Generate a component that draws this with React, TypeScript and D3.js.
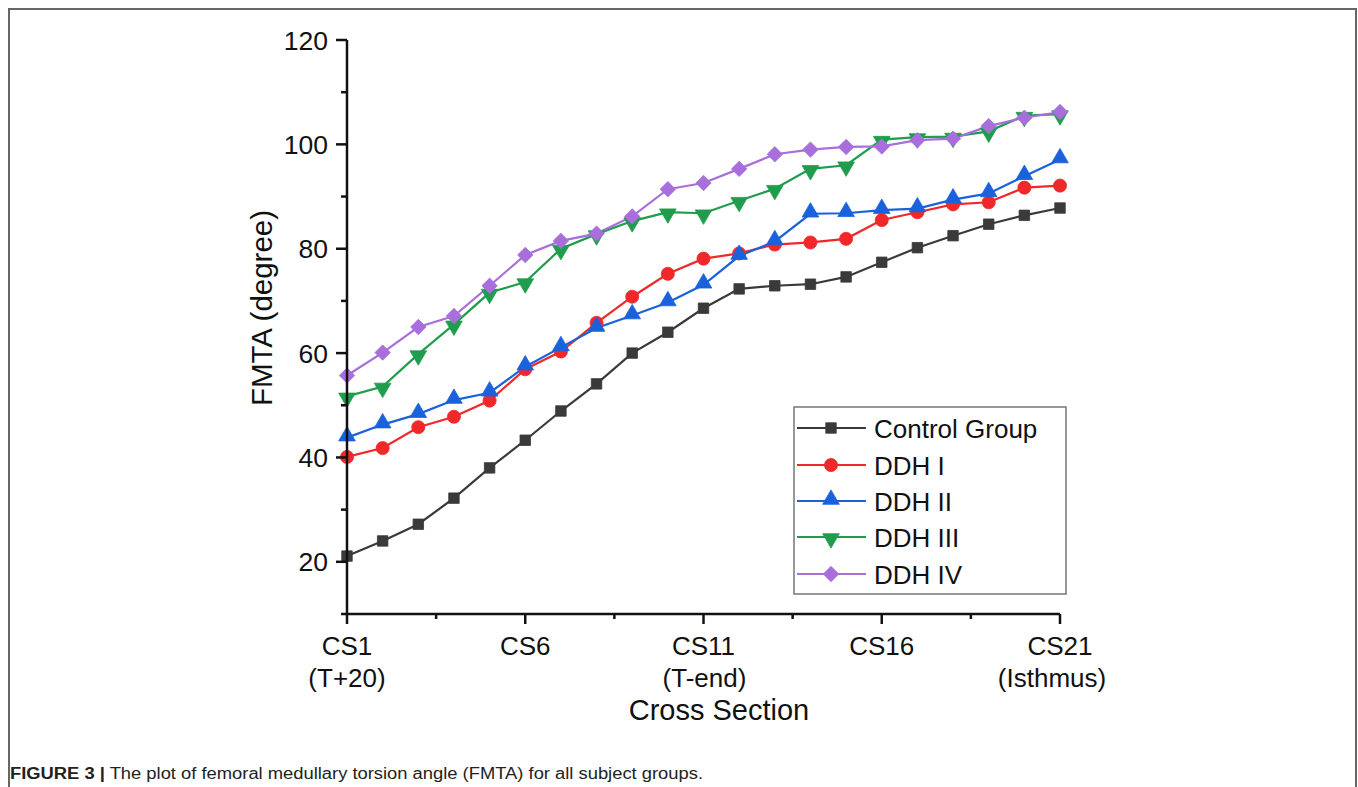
import React from "react";
import * as d3 from "d3";

const sections = d3.range(1, 22);
const controlGroup = [21.1, 24.0, 27.2, 32.2, 38.0, 43.3, 48.9, 54.1, 60.0, 64.0, 68.6, 72.3, 72.9, 73.2, 74.6, 77.4, 80.2, 82.5, 84.7, 86.4, 87.8];
const ddh1 = [40.1, 41.8, 45.8, 47.8, 50.9, 56.9, 60.3, 65.8, 70.8, 75.2, 78.1, 79.1, 80.8, 81.2, 81.9, 85.5, 87.0, 88.5, 88.9, 91.7, 92.1];
const ddh2 = [43.8, 46.3, 48.3, 51.0, 52.4, 57.4, 61.1, 64.8, 67.2, 69.7, 73.1, 78.6, 81.4, 86.7, 86.8, 87.4, 87.7, 89.4, 90.6, 93.9, 97.1];
const ddh3 = [51.7, 53.6, 59.8, 65.5, 71.6, 73.6, 80.0, 82.8, 85.3, 87.0, 86.8, 89.2, 91.5, 95.3, 96.0, 100.9, 101.4, 101.5, 102.5, 105.5, 105.8];
const ddh4 = [55.7, 60.1, 65.0, 67.1, 72.9, 78.8, 81.5, 82.9, 86.2, 91.4, 92.6, 95.3, 98.1, 99.0, 99.5, 99.6, 100.8, 101.1, 103.5, 105.1, 106.2];

const yMajorTicks = [20, 40, 60, 80, 100, 120];
const yMinorTicks = [10, 30, 50, 70, 90, 110];
const xMajorTicks = [1, 6, 11, 16, 21];
const xMinorTicks = [3.5, 8.5, 13.5, 18.5];
const xTickLabels = ["CS1", "CS6", "CS11", "CS16", "CS21"];
const xTickSubLabels = ["(T+20)", "", "(T-end)", "", "(Isthmus)"];

const seriesNames = ["Control Group", "DDH I", "DDH II", "DDH III", "DDH IV"];
const seriesValues = [controlGroup, ddh1, ddh2, ddh3, ddh4];
const seriesColors = ["#3a3a3a", "#f0282a", "#1a62dc", "#1f9d4c", "#a86fdc"];
const seriesSymbols = [d3.symbolSquare, d3.symbolCircle, d3.symbolTriangle, d3.symbolTriangle, d3.symbolSquare];
const seriesSizes = [110, 135, 120, 120, 118];
const seriesRotate = [0, 0, 0, 180, 45];

const FONT = "'Liberation Sans', Arial, sans-serif";

export default function App() {
  const x = d3.scaleLinear().domain([1, 21]).range([347, 1060]);
  const y = d3.scaleLinear().domain([10, 120]).range([614, 40]);
  const line = d3
    .line<number>()
    .x((_, i) => x(sections[i]))
    .y((d) => y(d));

  const marker = (k: number, cx: number, cy: number, key: string) => {
    const path = d3.symbol().type(seriesSymbols[k]).size(seriesSizes[k])() || "";
    const dy = k === 3 ? 1.5 : k === 2 ? -1.5 : 0;
    return (
      <path
        key={key}
        d={path}
        transform={`translate(${cx},${cy + dy}) rotate(${seriesRotate[k]})`}
        fill={seriesColors[k]}
        stroke={seriesColors[k]}
        strokeWidth={0.8}
      />
    );
  };

  const legendX = 794;
  const legendY = 407;
  const legendRowY = [428, 465, 501, 537, 574];

  return (
    <svg
      width={1358}
      height={787}
      style={{ position: "absolute", left: 0, top: 0, background: "#fff" }}
      fontFamily={FONT}
    >
      <rect x={0} y={0} width={1358} height={787} fill="#fff" />
      {/* figure frame (open at bottom) */}
      <path d="M9,787 V9 H1356 V787" fill="none" stroke="#666" strokeWidth={2} />

      {/* series lines */}
      {seriesValues.map((vals, k) => (
        <path key={"l" + k} d={line(vals) || ""} fill="none" stroke={seriesColors[k]} strokeWidth={2.2} />
      ))}
      {/* markers */}
      {seriesValues.map((vals, k) => (
        <g key={"m" + k}>{vals.map((v, i) => marker(k, x(sections[i]), y(v), `${k}-${i}`))}</g>
      ))}

      {/* axes */}
      <g stroke="#111" strokeWidth={2.5} fill="none">
        <path d={`M${x(1)},${y(120)} V${y(10)} H${x(21)}`} />
        {yMajorTicks.map((t) => (
          <line key={"ym" + t} x1={x(1) - 11} x2={x(1)} y1={y(t)} y2={y(t)} />
        ))}
        {yMinorTicks.map((t) => (
          <line key={"yn" + t} x1={x(1) - 6} x2={x(1)} y1={y(t)} y2={y(t)} />
        ))}
        {xMajorTicks.map((t) => (
          <line key={"xm" + t} x1={x(t)} x2={x(t)} y1={y(10)} y2={y(10) + 10} />
        ))}
        {xMinorTicks.map((t) => (
          <line key={"xn" + t} x1={x(t)} x2={x(t)} y1={y(10)} y2={y(10) + 5} />
        ))}
      </g>

      {/* y tick labels */}
      <g fontSize={26.5} fill="#111" textAnchor="end">
        {yMajorTicks.map((t) => (
          <text key={"yt" + t} x={x(1) - 19} y={y(t) + 9.5}>
            {t}
          </text>
        ))}
      </g>
      {/* x tick labels */}
      <g fontSize={26} fill="#111" textAnchor="middle">
        {xMajorTicks.map((t, i) => (
          <g key={"xt" + t}>
            <text x={x(t)} y={655}>
              {xTickLabels[i]}
            </text>
            {xTickSubLabels[i] && (
              <text x={x(t) - (i === 4 ? 8 : i === 2 ? -1 : 0)} y={687}>
                {xTickSubLabels[i]}
              </text>
            )}
          </g>
        ))}
      </g>

      {/* axis titles */}
      <text x={719} y={720} fontSize={29} textAnchor="middle" fill="#111">
        Cross Section
      </text>
      <text
        transform={`translate(272,308) rotate(-90)`}
        fontSize={29.5}
        textAnchor="middle"
        fill="#111"
      >
        FMTA (degree)
      </text>

      {/* legend */}
      <rect x={legendX} y={legendY} width={272} height={187} fill="#fff" stroke="#777" strokeWidth={1.5} />
      {seriesNames.map((name, k) => (
        <g key={"lg" + k}>
          <line x1={797} x2={866} y1={legendRowY[k]} y2={legendRowY[k]} stroke={seriesColors[k]} strokeWidth={2.2} />
          {marker(k, 831, legendRowY[k], "lgm" + k)}
          <text x={874} y={legendRowY[k] + 9.5} fontSize={26} fill="#111">
            {name}
          </text>
        </g>
      ))}

      {/* caption */}
      <text x={10} y={779} fontSize={16} fill="#222" textLength={693} lengthAdjust="spacingAndGlyphs">
        <tspan fontWeight="bold">FIGURE 3 |</tspan>
        <tspan> The plot of femoral medullary torsion angle (FMTA) for all subject groups.</tspan>
      </text>
    </svg>
  );
}
